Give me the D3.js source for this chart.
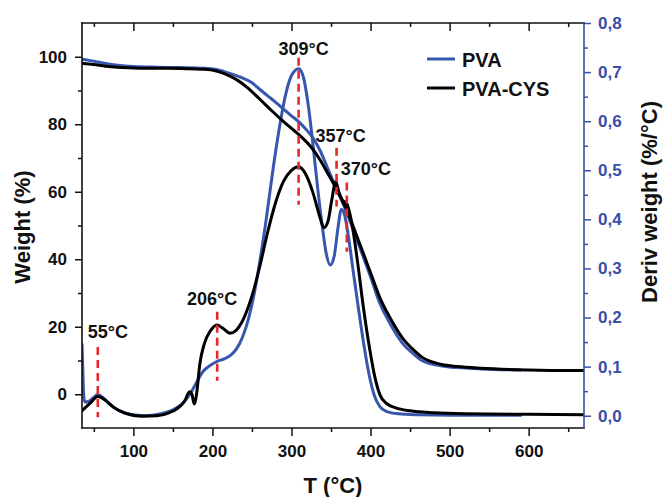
<!DOCTYPE html>
<html><head><meta charset="utf-8">
<script src="https://cdn.jsdelivr.net/npm/d3@7"></script>
<style>
html,body{margin:0;padding:0;background:#fff;}
svg{display:block;font-family:"Liberation Sans",Arial,sans-serif;font-weight:bold;}
</style></head><body>
<svg id="chart" width="664" height="497"></svg>
<script>
// Thermogravimetric curves: residual weight (left axis) and its derivative (right axis)
const seriesNames = ["PVA", "PVA-CYS"];

// TGA, PVA
const tgaTempPVA   = [35, 50, 65, 80, 100, 130, 160, 190, 205, 220, 235, 250, 260, 270, 280, 290, 300, 309, 318, 327, 336, 346, 358, 370, 380, 390, 400, 412, 425, 440, 455, 465, 475, 490, 510, 540, 590];
const tgaWeightPVA = [99.3, 98.7, 98.0, 97.5, 97.1, 96.9, 96.8, 96.6, 96.2, 95.2, 94.0, 92.3, 90.3, 88.4, 86.5, 84.5, 82.5, 80.8, 78.6, 76.0, 72.3, 66.8, 60.3, 53.8, 47.5, 41.2, 34.8, 26.8, 20.8, 15.2, 11.8, 10.0, 9.1, 8.4, 7.9, 7.5, 7.2];

// TGA, PVA-CYS
const tgaTempCYS   = [35, 50, 65, 80, 100, 130, 160, 190, 205, 215, 230, 245, 260, 275, 290, 300, 309, 318, 327, 336, 346, 358, 370, 380, 390, 400, 412, 425, 440, 455, 465, 475, 490, 510, 540, 600, 670];
const tgaWeightCYS = [98.1, 97.7, 97.2, 96.9, 96.7, 96.6, 96.5, 96.3, 95.8, 95.0, 93.3, 90.7, 87.4, 84.0, 80.8, 78.8, 77.0, 75.0, 72.6, 69.5, 65.4, 60.3, 54.6, 48.5, 42.3, 36.0, 28.5, 22.5, 16.8, 13.0, 11.0, 9.8, 8.8, 8.2, 7.7, 7.2, 7.0];

// DTG, PVA
const dtgTempPVA = [35, 36, 37, 38.5, 43, 49, 55, 62, 70, 80, 95, 115, 135, 150, 162, 172, 180, 187, 195, 205, 215, 222, 230, 238, 246, 253, 260, 268, 276, 284, 292, 300, 309, 315, 321, 327, 333, 339, 344, 349, 354, 359, 363, 367, 372, 378, 385, 392, 398, 405, 412, 420, 435, 460, 500, 590];
const dtgPVA     = [0.145, 0.095, 0.045, 0.028, 0.029, 0.036, 0.043, 0.036, 0.024, 0.012, 0.003, 0.000, 0.004, 0.012, 0.025, 0.045, 0.068, 0.088, 0.100, 0.110, 0.116, 0.122, 0.135, 0.160, 0.200, 0.250, 0.315, 0.400, 0.495, 0.580, 0.650, 0.693, 0.707, 0.690, 0.635, 0.555, 0.465, 0.385, 0.330, 0.307, 0.325, 0.385, 0.420, 0.410, 0.365, 0.295, 0.215, 0.140, 0.085, 0.040, 0.018, 0.009, 0.004, 0.002, 0.001, 0.001];

// DTG, PVA-CYS
const dtgTempCYS = [35, 45, 55, 65, 75, 90, 110, 130, 145, 155, 165, 171, 174, 177, 180, 184, 190, 197, 206, 214, 222, 230, 237, 245, 252, 260, 270, 280, 290, 300, 309, 318, 327, 335, 341, 346, 351, 356, 360, 364, 370, 376, 383, 391, 399, 406, 412, 420, 432, 450, 480, 520, 600, 670];
const dtgCYS     = [0.010, 0.025, 0.039, 0.031, 0.017, 0.005, -0.001, 0.000, 0.006, 0.014, 0.030, 0.049, 0.044, 0.024, 0.045, 0.105, 0.148, 0.172, 0.185, 0.177, 0.168, 0.174, 0.190, 0.220, 0.255, 0.305, 0.375, 0.435, 0.478, 0.500, 0.507, 0.492, 0.455, 0.410, 0.383, 0.395, 0.440, 0.477, 0.455, 0.440, 0.432, 0.395, 0.320, 0.220, 0.135, 0.075, 0.042, 0.025, 0.016, 0.010, 0.006, 0.004, 0.003, 0.002];

// Marked decomposition peaks
const peakTemps  = [55, 206, 309, 357, 370];
const peakLabels = ["55°C", "206°C", "309°C", "357°C", "370°C"];

// Tick values
const tempTicks   = [100, 200, 300, 400, 500, 600];
const weightTicks = [0, 20, 40, 60, 80, 100];
const derivTicks  = [0, 0.1, 0.2, 0.3, 0.4, 0.5, 0.6, 0.7, 0.8];

// ---- layout ----
const plot = {left: 82, right: 584, top: 23, bottom: 428};
const BLUE = "#3756ae", AXIS_BLUE = "#3a4fa8", RED = "#e8262b";

// marker extents and label anchors, in derivative units / px offsets
const markerSpan   = [[-0.003, 0.140], [0.071, 0.212], [0.430, 0.729], [0.426, 0.546], [0.334, 0.475]];
const labelLevel   = [0.158, 0.2255, 0.735, 0.558, 0.490];
const labelShift   = [10, -5, 5, 4, 19];

const svg = d3.select("#chart");

const x  = d3.scaleLinear().domain([35, 670]).range([plot.left, plot.right]);
const yW = d3.scaleLinear().domain([-10, 110]).range([plot.bottom, plot.top]);
const yD = d3.scaleLinear().domain([-0.025, 0.8]).range([plot.bottom, plot.top]);

svg.append("defs").append("clipPath").attr("id", "plotClip")
  .append("rect").attr("x", plot.left).attr("y", plot.top)
  .attr("width", plot.right - plot.left).attr("height", plot.bottom - plot.top);

const curves = svg.append("g").attr("clip-path", "url(#plotClip)");

function drawSeries(temps, vals, yScale, color) {
  const pts = temps.map((t, i) => [t, vals[i]]);
  curves.append("path").datum(pts)
    .attr("fill", "none").attr("stroke", color).attr("stroke-width", 3)
    .attr("stroke-linejoin", "round").attr("stroke-linecap", "round")
    .attr("d", d3.line().x(d => x(d[0])).y(d => yScale(d[1])).curve(d3.curveMonotoneX));
}

drawSeries(tgaTempPVA, tgaWeightPVA, yW, BLUE);
drawSeries(dtgTempPVA, dtgPVA, yD, BLUE);
drawSeries(tgaTempCYS, tgaWeightCYS, yW, "#000");
drawSeries(dtgTempCYS, dtgCYS, yD, "#000");

// peak markers
const marks = svg.append("g");
peakTemps.forEach((t, i) => {
  marks.append("line")
    .attr("x1", x(t)).attr("x2", x(t))
    .attr("y1", yD(markerSpan[i][1])).attr("y2", yD(markerSpan[i][0]))
    .attr("stroke", RED).attr("stroke-width", 2.6).attr("stroke-dasharray", "8,5");
  marks.append("text")
    .attr("x", x(t) + labelShift[i]).attr("y", yD(labelLevel[i]))
    .attr("text-anchor", "middle").attr("font-size", 18).attr("fill", "#111")
    .text(peakLabels[i]);
});

// ---- axes ----
const minorTemps  = d3.range(50, 670, 100);
const minorWeight = d3.range(10, 100, 20);
const minorDeriv  = d3.range(0.05, 0.8, 0.1);

function styleAxis(g, color) {
  g.select(".domain").remove();
  g.selectAll("line").attr("stroke", color).attr("stroke-width", 1.5);
  g.selectAll("text").attr("fill", color).attr("font-size", 17).attr("font-weight", "bold")
    .attr("font-family", '"Liberation Sans", Arial, sans-serif');
}

// bottom
svg.append("g").attr("transform", `translate(0,${plot.bottom})`)
  .call(d3.axisBottom(x).tickValues(tempTicks).tickSize(8).tickPadding(9).tickSizeOuter(0))
  .call(g => styleAxis(g, "#111"))
  .call(g => g.selectAll("text").attr("dy", "0.71em"));
svg.append("g").attr("transform", `translate(0,${plot.bottom})`)
  .call(d3.axisBottom(x).tickValues(minorTemps).tickSize(4).tickFormat("").tickSizeOuter(0))
  .call(g => styleAxis(g, "#111"));
// top (inward ticks)
svg.append("g").attr("transform", `translate(0,${plot.top})`)
  .call(d3.axisBottom(x).tickValues(tempTicks).tickSize(8).tickFormat("").tickSizeOuter(0))
  .call(g => styleAxis(g, "#111"));
svg.append("g").attr("transform", `translate(0,${plot.top})`)
  .call(d3.axisBottom(x).tickValues(minorTemps).tickSize(4).tickFormat("").tickSizeOuter(0))
  .call(g => styleAxis(g, "#111"));
// left
svg.append("g").attr("transform", `translate(${plot.left},0)`)
  .call(d3.axisLeft(yW).tickValues(weightTicks).tickSize(7).tickPadding(8).tickSizeOuter(0))
  .call(g => styleAxis(g, "#111"));
svg.append("g").attr("transform", `translate(${plot.left},0)`)
  .call(d3.axisLeft(yW).tickValues(minorWeight).tickSize(4).tickFormat("").tickSizeOuter(0))
  .call(g => styleAxis(g, "#111"));
// right
const commaFmt = v => d3.format(".1f")(v).replace(".", ",");
svg.append("g").attr("transform", `translate(${plot.right},0)`)
  .call(d3.axisRight(yD).tickValues(derivTicks).tickSize(7).tickPadding(7).tickFormat(commaFmt).tickSizeOuter(0))
  .call(g => styleAxis(g, AXIS_BLUE));
svg.append("g").attr("transform", `translate(${plot.right},0)`)
  .call(d3.axisRight(yD).tickValues(minorDeriv).tickSize(4).tickFormat("").tickSizeOuter(0))
  .call(g => styleAxis(g, AXIS_BLUE));

// frame lines
const frame = svg.append("g").attr("stroke-width", 1.6).attr("stroke-linecap", "square");
frame.append("line").attr("x1", plot.left).attr("x2", plot.right).attr("y1", plot.top).attr("y2", plot.top).attr("stroke", "#111");
frame.append("line").attr("x1", plot.left).attr("x2", plot.right).attr("y1", plot.bottom).attr("y2", plot.bottom).attr("stroke", "#111");
frame.append("line").attr("x1", plot.left).attr("x2", plot.left).attr("y1", plot.top).attr("y2", plot.bottom).attr("stroke", "#111");
frame.append("line").attr("x1", plot.right).attr("x2", plot.right).attr("y1", plot.top).attr("y2", plot.bottom).attr("stroke", AXIS_BLUE);

// axis titles
svg.append("text").attr("x", (plot.left + plot.right) / 2).attr("y", 493)
  .attr("text-anchor", "middle").attr("font-size", 22).attr("fill", "#111").text("T (°C)");
svg.append("text").attr("transform", `translate(30,227) rotate(-90)`)
  .attr("text-anchor", "middle").attr("font-size", 22).attr("fill", "#111").text("Weight (%)");
svg.append("text").attr("transform", `translate(657,202) rotate(-90)`)
  .attr("text-anchor", "middle").attr("font-size", 22).attr("fill", "#111").text("Deriv weight (%/°C)");

// legend
const legend = svg.append("g");
[BLUE, "#000"].forEach((c, i) => {
  const ly = 59 + i * 29;
  legend.append("line").attr("x1", 427).attr("x2", 455).attr("y1", ly).attr("y2", ly)
    .attr("stroke", c).attr("stroke-width", 3);
  legend.append("text").attr("x", 462).attr("y", ly + 7.5)
    .attr("font-size", 20).attr("fill", "#111").text(seriesNames[i]);
});
</script>
</body></html>
